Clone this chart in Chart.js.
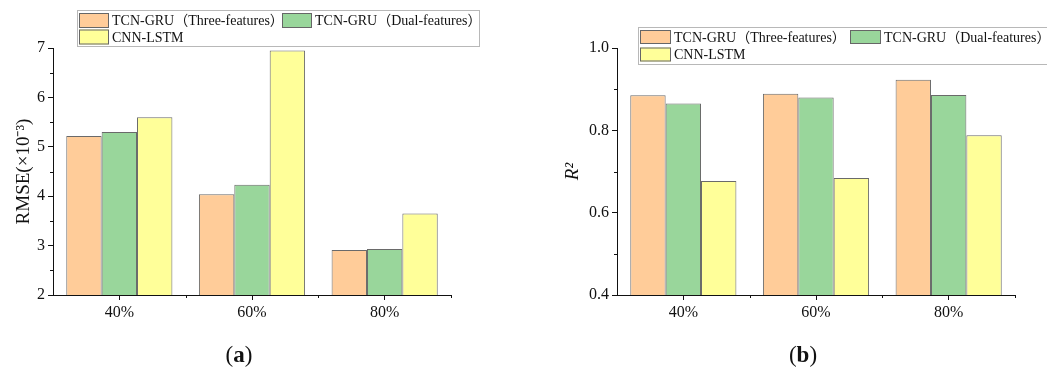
<!DOCTYPE html>
<html>
<head>
<meta charset="utf-8">
<script src="https://cdn.jsdelivr.net/npm/chart.js@4.4.1/dist/chart.umd.min.js"></script>
<style>
  body { margin: 0; background: #fff; width: 1047px; height: 374px; overflow: hidden; position: relative; }
  .panel { position: absolute; top: 0; height: 374px; }
  #panelA { left: 0; width: 523px; }
  #panelB { left: 527px; width: 520px; }
  .caption { position: absolute; top: 342px; font-family: 'Liberation Serif', serif; font-size: 23px; color: #111; transform: translateX(-50%); white-space: nowrap; }
</style>
</head>
<body>
<div class="panel" id="panelA"><canvas id="rmseChart" width="523" height="374"></canvas></div>
<div class="panel" id="panelB"><canvas id="r2Chart" width="520" height="374"></canvas></div>
<div class="caption" style="left:239px">(<b>a</b>)</div>
<div class="caption" style="left:803px">(<b>b</b>)</div>

<script>
// 训练集比例
const categories = ['40%', '60%', '80%'];
const seriesNames = ['TCN-GRU（Three-features）', 'TCN-GRU（Dual-features）', 'CNN-LSTM'];
const seriesColors = ['#FFCC99', '#99D69B', '#FFFF99'];

// RMSE (×10^-3)
const rmseThree = [5.22, 4.04, 2.91];
const rmseDual = [5.30, 4.23, 2.93];
const rmseCnn = [5.60, 6.95, 3.65];

// R²
const r2Three = [0.885, 0.889, 0.923];
const r2Dual = [0.865, 0.880, 0.886];
const r2Cnn = [0.677, 0.684, 0.788];

const SERIF = "'Liberation Serif', 'Times New Roman', 'Noto Sans CJK SC', serif";

// 次刻度：y轴取相邻主刻度中点，x轴取类别分界
const minorTicks = {
  id: 'minorTicks',
  afterDraw(chart) {
    const ctx = chart.ctx;
    const y = chart.scales.y, x = chart.scales.x;
    ctx.save();
    ctx.strokeStyle = '#111';
    ctx.lineWidth = 1;
    ctx.beginPath();
    for (let i = 0; i < y.ticks.length - 1; i++) {
      const mid = (y.ticks[i].value + y.ticks[i + 1].value) / 2;
      const py = Math.round(y.getPixelForValue(mid)) + 0.5;
      ctx.moveTo(y.right - 3, py);
      ctx.lineTo(y.right, py);
    }
    for (let i = 0; i < categories.length; i++) {
      const px = Math.round(x.getPixelForValue(i + 0.5)) + 0.5;
      ctx.moveTo(px, x.top);
      ctx.lineTo(px, x.top + 3);
    }
    ctx.stroke();
    ctx.restore();
  }
};

// 带边框的图例，可压在绘图区上方
const boxLegend = {
  id: 'boxLegend',
  afterDraw(chart, args, opts) {
    const ctx = chart.ctx;
    const sets = chart.data.datasets;
    ctx.save();
    ctx.fillStyle = '#fff';
    ctx.fillRect(opts.x, opts.y, opts.w, opts.h);
    ctx.strokeStyle = '#b8b8b8';
    ctx.lineWidth = 1;
    ctx.strokeRect(opts.x + 0.5, opts.y + 0.5, opts.w, opts.h);
    ctx.font = opts.fontSize + 'px ' + SERIF;
    ctx.textBaseline = 'middle';
    ctx.textAlign = 'left';
    sets.forEach((ds, i) => {
      const row = i < 2 ? 0 : 1;
      const col = i < 2 ? i : 0;
      const sx = opts.x + opts.cols[col];
      const cy = opts.y + opts.rows[row];
      ctx.fillStyle = ds.backgroundColor;
      ctx.fillRect(sx, cy - opts.sh / 2, opts.sw, opts.sh);
      ctx.strokeStyle = '#666';
      ctx.strokeRect(sx + 0.5, cy - opts.sh / 2 + 0.5, opts.sw - 1, opts.sh - 1);
      ctx.fillStyle = '#111';
      ctx.fillText(ds.label, sx + opts.sw + 3, cy + 1);
    });
    ctx.restore();
  }
};

function makeDatasets(values) {
  return values.map((v, i) => ({
    label: seriesNames[i],
    data: v,
    backgroundColor: seriesColors[i],
    borderColor: '#6a6a6a',
    borderWidth: 1,
    borderSkipped: false,
    categoryPercentage: 0.8,
    barPercentage: 1.0
  }));
}

function buildChart(canvasId, values, yCfg, layout, legendCfg) {
  return new Chart(document.getElementById(canvasId), {
    type: 'bar',
    data: { labels: categories, datasets: makeDatasets(values) },
    plugins: [minorTicks, boxLegend],
    options: {
      responsive: false,
      animation: false,
      devicePixelRatio: 1,
      layout: { padding: layout.padding },
      plugins: {
        legend: { display: false },
        tooltip: { enabled: false },
        boxLegend: legendCfg
      },
      scales: {
        x: {
          afterFit: s => { s.height = layout.xHeight; },
          grid: { drawOnChartArea: false, offset: false, tickLength: 5, color: '#111' },
          border: { color: '#111', width: 1 },
          ticks: { color: '#111', padding: 3, font: { family: SERIF, size: 16 } }
        },
        y: {
          min: yCfg.min,
          max: yCfg.max,
          afterFit: s => { s.width = layout.yWidth; },
          grid: { drawOnChartArea: false, tickLength: 5, color: '#111' },
          border: { color: '#111', width: 1 },
          ticks: {
            stepSize: yCfg.step,
            color: '#111',
            padding: 3,
            font: { family: SERIF, size: 16 },
            callback: v => v.toFixed(yCfg.digits)
          },
          title: {
            display: true,
            text: yCfg.title,
            color: '#111',
            padding: { top: yCfg.titlePad, bottom: 0 },
            font: { family: SERIF, size: yCfg.titleSize, style: yCfg.titleStyle }
          }
        }
      }
    }
  });
}

buildChart('rmseChart', [rmseThree, rmseDual, rmseCnn],
  { min: 2, max: 7, step: 1, digits: 0, title: 'RMSE(×10⁻³)', titlePad: 13, titleSize: 19, titleStyle: 'normal' },
  { padding: { top: 48, right: 72, left: 0, bottom: 0 }, yWidth: 53, xHeight: 79 },
  { x: 77, y: 10, w: 402, h: 36, cols: [2, 205], rows: [10.5, 27], sw: 30, sh: 15, fontSize: 14 });

buildChart('r2Chart', [r2Three, r2Dual, r2Cnn],
  { min: 0.4, max: 1.0, step: 0.2, digits: 1, title: 'R²', titlePad: 35, titleSize: 19, titleStyle: 'italic' },
  { padding: { top: 48, right: 32, left: 0, bottom: 0 }, yWidth: 90, xHeight: 79 },
  { x: 111, y: 27, w: 430, h: 37, cols: [2, 212], rows: [10, 27.5], sw: 31, sh: 14, fontSize: 14 });
</script>
</body>
</html>
